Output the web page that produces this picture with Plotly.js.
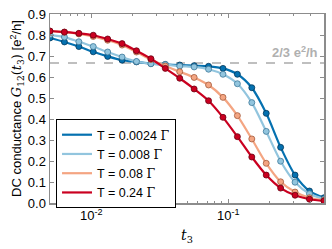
<!DOCTYPE html>
<html>
<head>
<meta charset="utf-8">
<script src="https://cdn.plot.ly/plotly-3.0.1.min.js"></script>
<style>html,body{margin:0;padding:0;background:#fff;}#chart{width:332px;height:249px;}</style>
</head>
<body>
<div id="chart"></div>
<script>
// t3 sample points: 20 log-spaced points from 0.005 to 0.5
const t3 = [0.005, 0.00637, 0.00812, 0.01034, 0.01318, 0.01679, 0.02139, 0.02726, 0.03473, 0.04425,
            0.05638, 0.07184, 0.09153, 0.11662, 0.14860, 0.18933, 0.24124, 0.30738, 0.39164, 0.5];

const seriesNames = ['T = 0.0024 Γ', 'T = 0.008 Γ', 'T = 0.08 Γ', 'T = 0.24 Γ'];

const g_T0024 = [0.786, 0.767, 0.745, 0.720, 0.698, 0.680, 0.672, 0.664, 0.660, 0.657,
                 0.654, 0.651, 0.641, 0.613, 0.549, 0.427, 0.265, 0.133, 0.057, 0.025];
const g_T008  = [0.801, 0.790, 0.768, 0.745, 0.719, 0.695, 0.674, 0.663, 0.659, 0.652,
                 0.648, 0.637, 0.613, 0.568, 0.478, 0.341, 0.199, 0.099, 0.044, 0.019];
const g_T08   = [0.818, 0.813, 0.805, 0.793, 0.775, 0.752, 0.719, 0.683, 0.652, 0.625,
                 0.598, 0.562, 0.503, 0.416, 0.305, 0.189, 0.101, 0.052, 0.025, 0.013];
const g_T24   = [0.819, 0.814, 0.808, 0.799, 0.781, 0.759, 0.725, 0.687, 0.641, 0.594,
                 0.543, 0.487, 0.408, 0.316, 0.219, 0.133, 0.071, 0.037, 0.018, 0.010];

const plateau = 2/3;
const plateauLabel = '<b>2/3 e<sup>2</sup>/h</b>';

const xTickVals = [0.01, 0.1];
const xTickText = ['10<sup>-2</sup>', '10<sup>-1</sup>'];
const yTickVals = [0, 0.1, 0.2, 0.3, 0.4, 0.5, 0.6, 0.7, 0.8, 0.9];
const yTickText = ['0.0', '0.1', '0.2', '0.3', '0.4', '0.5', '0.6', '0.7', '0.8', '0.9'];

const colors = ['#0571b0', '#92c5de', '#f4a582', '#ca0020'];
const edgeColors = ['#02375a', '#3d7899', '#a25a3c', '#6a0011'];
const allSeries = [g_T0024, g_T008, g_T08, g_T24];

const minorVals = [];
[0.001, 0.01, 0.1].forEach(d => { for (let k = 2; k <= 9; k++) minorVals.push(k * d); });

const GAMMA = '<span style="font-family:\'DejaVu Serif\'">Γ</span>';

const traces = [];
allSeries.forEach((ys, i) => {
  traces.push({
    x: t3, y: ys, type: 'scatter', mode: 'lines',
    name: seriesNames[i].replace('Γ', GAMMA),
    line: {color: colors[i], width: 2.2, shape: 'spline', smoothing: 0.8},
    legendgroup: 'g' + i, showlegend: true, hoverinfo: 'skip'
  });
  traces.push({
    x: t3, y: ys, type: 'scatter', mode: 'markers',
    marker: {color: colors[i], size: 6, line: {color: edgeColors[i], width: 0.8}},
    legendgroup: 'g' + i, showlegend: false, hoverinfo: 'skip'
  });
});

const axisCommon = {
  showline: true, linecolor: '#8c8c8c', linewidth: 1.5, mirror: 'ticks',
  ticks: 'inside', tickcolor: '#8c8c8c', ticklen: 4, tickwidth: 1,
  showgrid: false, zeroline: false,
  tickfont: {family: 'Liberation Sans, Arial, sans-serif', size: 13, color: '#000'}
};

const layout = {
  width: 332, height: 249,
  margin: {l: 50, r: 8, t: 14, b: 46},
  paper_bgcolor: '#fff', plot_bgcolor: '#fff',
  font: {family: 'Liberation Sans, Arial, sans-serif', size: 12, color: '#000'},
  xaxis: Object.assign({}, axisCommon, {
    type: 'log', range: [Math.log10(0.005), Math.log10(0.5)],
    tickmode: 'array', tickvals: xTickVals, ticktext: xTickText,
    minor: {tickmode: 'array', tickvals: minorVals, ticks: 'inside', ticklen: 2, tickcolor: '#8c8c8c', showgrid: false},
    title: {text: '<i>t</i><sub>3</sub>', font: {family: 'DejaVu Serif, serif', size: 14}, standoff: 8}
  }),
  yaxis: Object.assign({}, axisCommon, {
    range: [0, 0.9], tickmode: 'array', tickvals: yTickVals, ticktext: yTickText,
    title: {
      text: 'DC conductance <span style="font-family:\'DejaVu Serif\'"><i>G</i><sub>12</sub>(<i>t</i><sub>3</sub>)</span> [e<sup>2</sup>/h]',
      font: {family: 'Liberation Sans, Arial, sans-serif', size: 13}, standoff: 3
    }
  }),
  shapes: [{
    type: 'line', xref: 'paper', x0: 0, x1: 1, yref: 'y', y0: plateau, y1: plateau,
    line: {color: '#aaaaaa', width: 1.3, dash: 'dash'}, layer: 'below'
  }],
  annotations: [{
    xref: 'paper', x: 0.985, yref: 'y', y: plateau, yanchor: 'bottom', xanchor: 'right', yshift: 1,
    text: plateauLabel, showarrow: false,
    font: {family: 'Liberation Sans, Arial, sans-serif', size: 13, color: '#b0b0b0'}
  }],
  legend: {
    x: 0.022, y: 0.444, xanchor: 'left', yanchor: 'top',
    bgcolor: '#fff', bordercolor: '#000', borderwidth: 1,
    font: {family: 'Liberation Sans, Arial, sans-serif', size: 12.5, color: '#000'},
    tracegroupgap: 0
  },
  showlegend: true
};

Plotly.newPlot('chart', traces, layout, {displayModeBar: false, staticPlot: true});
</script>
</body>
</html>
